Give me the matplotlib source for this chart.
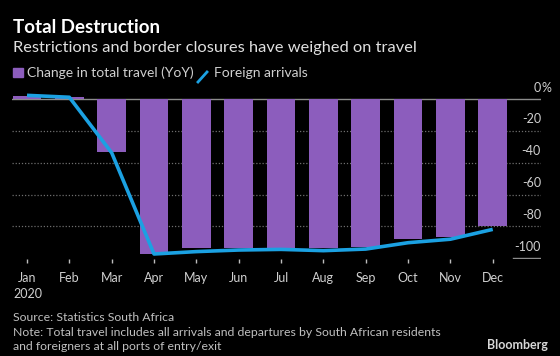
import matplotlib
matplotlib.use('Agg')
import matplotlib.pyplot as plt
from matplotlib.patches import Rectangle
from matplotlib.lines import Line2D

plt.rcParams['font.family'] = ['Lato', 'DejaVu Sans']

# data
months = ['Jan', 'Feb', 'Mar', 'Apr', 'May', 'Jun', 'Jul', 'Aug', 'Sep', 'Oct', 'Nov', 'Dec']
total_travel = [2.3, 1.5, -33, -97.3, -93.7, -93.7, -93.7, -93.7, -92.7, -88, -86.4, -79.7]
foreign_arrivals = [2.5, 1.3, -33.6, -97.3, -95.8, -94.8, -94.4, -95.2, -94.2, -90.2, -88, -81.8]
yticks = [0, -20, -40, -60, -80, -100]

purple = '#8c5dbd'
blue = '#1ba1e2'
bg = 'black'

fig = plt.figure(figsize=(5.6, 3.56), dpi=100, facecolor=bg)
ax = fig.add_axes([12 / 560, 1 - 259 / 356, (541 - 12) / 560, (259 - 87) / 356])
ax.set_facecolor(bg)

x = list(range(len(months)))
ax.bar(x, total_travel, width=0.68, color=purple, zorder=2)
ax.plot(x, foreign_arrivals, color=blue, lw=2.6, zorder=3, solid_capstyle='butt')

ax.set_xlim(-0.354, 12.14)
ax.set_ylim(-100.45, 7.75)

# grid lines
for v in yticks:
    if v == 0:
        ax.axhline(v, color='#8c8c8c', lw=1, zorder=1)
    elif v == -100:
        ax.plot([11.49, 12.14], [v, v], color='#8c8c8c', lw=1, zorder=1)
    else:
        ax.axhline(v, color='#6e6e6e', lw=0.9, ls=(0, (1, 1.5)), zorder=1)
    if v == 0:
        ax.text(12.14, v + 4.8, '0', color='#d0d0d0', fontsize=9, ha='right', va='baseline')
        ax.text(12.14, v + 4.8, '%', color='#d0d0d0', fontsize=9, ha='left', va='baseline')
    else:
        ax.text(12.14, v + 4.8, str(v), color='#d0d0d0', fontsize=9, ha='right', va='baseline')

ax.set_yticks([])
ax.set_xticks(x)
ax.set_xticklabels(months)
ax.tick_params(axis='x', colors='#bdbdbd', length=3, width=1, pad=6, labelsize=9,
               labelcolor='#d0d0d0')
for s in ax.spines.values():
    s.set_visible(False)

# titles
fig.text(12.7 / 560, 1 - 33.3 / 356, 'Total Destruction', color='white', fontsize=13.5,
         fontweight='bold', va='baseline')
fig.text(12.7 / 560, 1 - 51.7 / 356, 'Restrictions and border closures have weighed on travel',
         color='#e0e0e0', fontsize=11.8, va='baseline')

# legend
fig.add_artist(Rectangle((13.3 / 560, 1 - 77 / 356), 9.4 / 560, 9 / 356,
                         transform=fig.transFigure, color=purple))
fig.text(26.7 / 560, 1 - 76.7 / 356, 'Change in total travel (YoY)', color='#d0d0d0',
         fontsize=10, va='baseline')
fig.add_artist(Line2D([198 / 560, 207 / 560], [1 - 82 / 356, 1 - 72 / 356],
                      transform=fig.transFigure, color=blue, lw=2))
fig.text(213.6 / 560, 1 - 76.7 / 356, 'Foreign arrivals', color='#d0d0d0',
         fontsize=10, va='baseline')

# footer
fig.text(13 / 560, 1 - 298 / 356, '2020', color='#d0d0d0', fontsize=9, va='baseline')
fig.text(12.7 / 560, 1 - 321.4 / 356, 'Source: Statistics South Africa', color='#c0c0c0',
         fontsize=8.8, va='baseline')
fig.text(12.7 / 560, 1 - 335.7 / 356,
         'Note: Total travel includes all arrivals and departures by South African residents',
         color='#c0c0c0', fontsize=8.8, va='baseline')
fig.text(12.7 / 560, 1 - 350 / 356, 'and foreigners at all ports of entry/exit', color='#c0c0c0',
         fontsize=8.8, va='baseline')
fig.text(548 / 560, 1 - 349.3 / 356, 'Bloomberg', color='#d8d8d8', fontsize=9,
         fontweight='bold', ha='right', va='baseline')

fig.savefig('out.png', dpi=100, facecolor=bg)
